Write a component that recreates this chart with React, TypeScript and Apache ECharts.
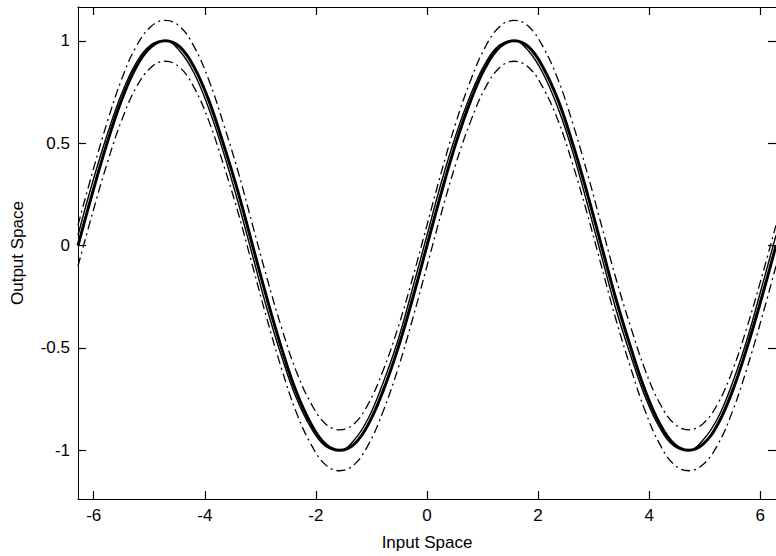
import React, { useEffect, useRef } from "react";
import * as echarts from "echarts";

// Input space samples (steps of pi/12 from -2*pi to 2*pi)
const inputX = [
  -6.2832, -6.02, -5.76, -5.5, -5.24, -4.97, -4.71, -4.45, -4.19, -3.93, -3.67, -3.4,
  -3.14, -2.88, -2.62, -2.36, -2.09, -1.83, -1.57, -1.31, -1.05, -0.79, -0.52, -0.26,
  0, 0.26, 0.52, 0.79, 1.05, 1.31, 1.57, 1.83, 2.09, 2.36, 2.62, 2.88,
  3.14, 3.4, 3.67, 3.93, 4.19, 4.45, 4.71, 4.97, 5.24, 5.5, 5.76, 6.02, 6.2832,
];

// Thick solid curve (target)
const target = [
  0, 0.26, 0.5, 0.71, 0.87, 0.97, 1, 0.97, 0.87, 0.71, 0.5, 0.26,
  0, -0.26, -0.5, -0.71, -0.87, -0.97, -1, -0.97, -0.87, -0.71, -0.5, -0.26,
  0, 0.26, 0.5, 0.71, 0.87, 0.97, 1, 0.97, 0.87, 0.71, 0.5, 0.26,
  0, -0.26, -0.5, -0.71, -0.87, -0.97, -1, -0.97, -0.87, -0.71, -0.5, -0.26, 0,
];

// Thin solid curve (model output)
const model = [
  0.05, 0.31, 0.54, 0.74, 0.89, 0.98, 1, 0.95, 0.84, 0.67, 0.46, 0.21,
  -0.05, -0.31, -0.54, -0.74, -0.89, -0.98, -1, -0.95, -0.84, -0.67, -0.46, -0.21,
  0.05, 0.31, 0.54, 0.74, 0.89, 0.98, 1, 0.95, 0.84, 0.67, 0.46, 0.21,
  -0.05, -0.31, -0.54, -0.74, -0.89, -0.98, -1, -0.95, -0.84, -0.67, -0.46, -0.21, 0.05,
];

// Dash-dot upper bound
const upperBound = [
  0.1, 0.36, 0.6, 0.81, 0.97, 1.07, 1.1, 1.07, 0.97, 0.81, 0.6, 0.36,
  0.1, -0.16, -0.4, -0.61, -0.77, -0.87, -0.9, -0.87, -0.77, -0.61, -0.4, -0.16,
  0.1, 0.36, 0.6, 0.81, 0.97, 1.07, 1.1, 1.07, 0.97, 0.81, 0.6, 0.36,
  0.1, -0.16, -0.4, -0.61, -0.77, -0.87, -0.9, -0.87, -0.77, -0.61, -0.4, -0.16, 0.1,
];

// Dash-dot lower bound
const lowerBound = [
  -0.1, 0.16, 0.4, 0.61, 0.77, 0.87, 0.9, 0.87, 0.77, 0.61, 0.4, 0.16,
  -0.1, -0.36, -0.6, -0.81, -0.97, -1.07, -1.1, -1.07, -0.97, -0.81, -0.6, -0.36,
  -0.1, 0.16, 0.4, 0.61, 0.77, 0.87, 0.9, 0.87, 0.77, 0.61, 0.4, 0.16,
  -0.1, -0.36, -0.6, -0.81, -0.97, -1.07, -1.1, -1.07, -0.97, -0.81, -0.6, -0.36, -0.1,
];

const xTicks = [-6, -4, -2, 0, 2, 4, 6];
const yTicks = [-1, -0.5, 0, 0.5, 1];
const xRange = [-6.2832, 6.2832];
const yRange = [-1.238, 1.165];

const xName = "Input Space";
const yName = "Output Space";

const FONT = "'Liberation Sans', Arial, sans-serif";

const pairs = (ys: number[]) => inputX.map((x, i) => [x, ys[i]]);

export default function App() {
  const ref = useRef<HTMLDivElement>(null);

  useEffect(() => {
    if (!ref.current) return;
    const chart = echarts.init(ref.current, null, { renderer: "svg" });

    const axisLine = { show: true, onZero: false, lineStyle: { color: "#000", width: 1 } };
    const tick = (vals: number[]) => ({
      show: true,
      inside: true,
      length: 8,
      customValues: vals,
      lineStyle: { color: "#000", width: 1.2 },
    });

    chart.setOption({
      animation: false,
      backgroundColor: "#fff",
      grid: { left: 78, top: 7, width: 699, bottom: 54, containLabel: false },
      xAxis: [
        {
          type: "value",
          min: xRange[0],
          max: xRange[1],
          position: "bottom",
          axisLine,
          axisTick: tick(xTicks),
          splitLine: { show: false },
          axisLabel: {
            customValues: xTicks,
            color: "#000",
            fontFamily: FONT,
            fontSize: 17,
            margin: 8,
          },
          name: xName,
          nameLocation: "middle",
          nameGap: 35,
          nameTextStyle: { color: "#000", fontFamily: FONT, fontSize: 17 },
        },
        {
          type: "value",
          min: xRange[0],
          max: xRange[1],
          position: "top",
          axisLine,
          axisTick: tick(xTicks),
          splitLine: { show: false },
          axisLabel: { show: false, customValues: xTicks },
        },
      ],
      yAxis: [
        {
          type: "value",
          min: yRange[0],
          max: yRange[1],
          position: "left",
          axisLine,
          axisTick: tick(yTicks),
          splitLine: { show: false },
          axisLabel: {
            customValues: yTicks,
            color: "#000",
            fontFamily: FONT,
            fontSize: 17,
            margin: 8,
          },
          name: yName,
          nameLocation: "middle",
          nameGap: 52,
          nameTextStyle: { color: "#000", fontFamily: FONT, fontSize: 17 },
        },
        {
          type: "value",
          min: yRange[0],
          max: yRange[1],
          position: "right",
          axisLine,
          axisTick: tick(yTicks),
          splitLine: { show: false },
          axisLabel: { show: false, customValues: yTicks },
        },
      ],
      series: [
        {
          type: "line",
          data: pairs(upperBound),
          showSymbol: false,
          smooth: 0.4,
          lineStyle: { color: "#000", width: 1.3, type: [9, 4, 2, 4] },
        },
        {
          type: "line",
          data: pairs(lowerBound),
          showSymbol: false,
          smooth: 0.4,
          lineStyle: { color: "#000", width: 1.3, type: [9, 4, 2, 4] },
        },
        {
          type: "line",
          data: pairs(model),
          showSymbol: false,
          smooth: 0.4,
          lineStyle: { color: "#000", width: 1.4 },
        },
        {
          type: "line",
          data: pairs(target),
          showSymbol: false,
          smooth: 0.4,
          lineStyle: { color: "#000", width: 3 },
        },
      ],
    });

    return () => chart.dispose();
  }, []);

  return (
    <div
      ref={ref}
      style={{ position: "absolute", left: 0, top: 0, width: 776, height: 556 }}
    />
  );
}
